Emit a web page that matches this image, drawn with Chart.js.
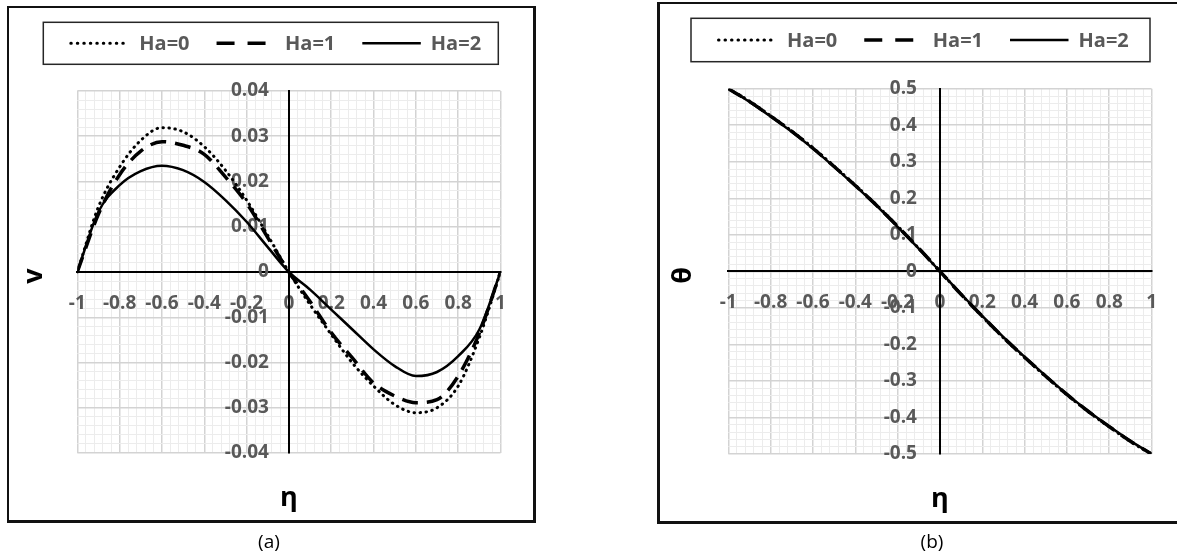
<!DOCTYPE html>
<html lang="es">
<head>
<meta charset="utf-8">
<title>v y θ frente a η</title>
<script src="https://cdn.jsdelivr.net/npm/chart.js@4.4.1/dist/chart.umd.min.js"></script>
<style>
    html, body { margin: 0; padding: 0; background: #fff; }
    body { width: 1177px; height: 557px; position: relative; overflow: hidden; font-family: 'Open Sans', sans-serif; }
    .marco { position: absolute; box-sizing: border-box; border: 2px solid #111; }
    #marcoA { left: 7px; top: 6px; width: 529px; height: 517px; border-right-width: 3px; border-bottom-width: 3px; }
    #marcoB { left: 657px; top: 2px; width: 540px; height: 522px; border-left-width: 3px; border-bottom-width: 3px; }
    canvas { position: absolute; top: 0; }
    #graficoV { left: 0; }
    #graficoTheta { left: 600px; }
    .pie { position: absolute; top: 529px; font-size: 19px; line-height: 24px; color: #000; transform: translateX(-50%); }
</style>
</head>
<body>
<div class="marco" id="marcoA"></div>
<div class="marco" id="marcoB"></div>
<canvas id="graficoV" width="600" height="557"></canvas>
<canvas id="graficoTheta" width="577" height="557"></canvas>
<div class="pie" style="left: 269px;">(a)</div>
<div class="pie" style="left: 932px;">(b)</div>

<script>
// Datos
const eta = [-1, -0.9, -0.8, -0.7, -0.6, -0.5, -0.4, -0.3, -0.2, -0.1, 0,
             0.1, 0.2, 0.3, 0.4, 0.5, 0.6, 0.7, 0.8, 0.9, 1];

const vHa0 = [0, 0.0144, 0.0232, 0.0291, 0.0319, 0.0310, 0.0277, 0.0225, 0.0159, 0.0081, 0,
              -0.0072, -0.0138, -0.0201, -0.0252, -0.0293, -0.0311, -0.0300, -0.0252, -0.0145, 0];
const vHa1 = [0, 0.0128, 0.0215, 0.0267, 0.0288, 0.0280, 0.0260, 0.0210, 0.0152, 0.0076, 0,
              -0.0065, -0.0134, -0.0190, -0.0245, -0.0274, -0.0289, -0.0282, -0.0230, -0.0135, 0];
const vHa2 = [0, 0.0133, 0.0192, 0.0223, 0.0235, 0.0225, 0.0199, 0.0159, 0.0111, 0.0055, 0,
              -0.0039, -0.0083, -0.0127, -0.0171, -0.0208, -0.0230, -0.0221, -0.0186, -0.0127, 0];

const thetaHa0 = [0.5, 0.466, 0.426, 0.384, 0.338, 0.288, 0.236, 0.182, 0.124, 0.063, 0,
                  -0.063, -0.124, -0.182, -0.236, -0.288, -0.338, -0.384, -0.426, -0.466, -0.5];
const thetaHa1 = [0.5, 0.465, 0.425, 0.383, 0.337, 0.287, 0.235, 0.181, 0.123, 0.063, 0,
                  -0.063, -0.123, -0.181, -0.235, -0.287, -0.337, -0.383, -0.425, -0.465, -0.5];
const thetaHa2 = [0.5, 0.464, 0.424, 0.382, 0.336, 0.286, 0.234, 0.180, 0.122, 0.062, 0,
                  -0.062, -0.122, -0.180, -0.234, -0.286, -0.336, -0.382, -0.424, -0.464, -0.5];

const series = ['Ha=0', 'Ha=1', 'Ha=2'];
const etaTicks = ['-1', '-0.8', '-0.6', '-0.4', '-0.2', '0', '0.2', '0.4', '0.6', '0.8', '1'];
const vTicks = ['-0.04', '-0.03', '-0.02', '-0.01', '0', '0.01', '0.02', '0.03', '0.04'];
const thetaTicks = ['-0.5', '-0.4', '-0.3', '-0.2', '-0.1', '0', '0.1', '0.2', '0.3', '0.4', '0.5'];

// Eje lineal centrado: separa las etiquetas verticales de la línea del eje
class EjeCentrado extends Chart.LinearScale {
    _computeLabelItems(area) {
        const items = super._computeLabelItems(area);
        if (!this.isHorizontal()) {
            items.forEach((item) => { item.options.translation[0] -= this.options.ticks.padding; });
        }
        return items;
    }
}
EjeCentrado.id = 'ejeCentrado';
EjeCentrado.defaults = Chart.LinearScale.defaults;
Chart.register(EjeCentrado);

document.addEventListener('DOMContentLoaded', () => {
    const fuenteTicks = { family: "'Open Sans', sans-serif", size: 19, weight: 'bold' };
    const estilos = [
        { borderWidth: 3, borderDash: [0.5, 5.5], borderCapStyle: 'round', leyenda: [0.5, 6] },
        { borderWidth: 3.5, borderDash: [16, 9], borderCapStyle: 'butt', leyenda: [18, 13] },
        { borderWidth: 2.5, borderDash: [], borderCapStyle: 'butt', leyenda: [] },
    ];

    // Indica si un valor cae sobre una división principal
    function esMayor(valor, paso) {
        const r = valor / paso;
        return Math.abs(r - Math.round(r)) < 1e-6;
    }

    // Etiqueta solo en las divisiones principales
    function etiquetas(lista, min, paso) {
        return (valor) => esMayor(valor, paso) ? lista[Math.round((valor - min) / paso)] : '';
    }

    // Configuración de un eje centrado con rejilla principal y secundaria
    function eje(min, max, paso, lista, posicion, relleno) {
        return {
            type: 'ejeCentrado',
            min: min,
            max: max,
            position: posicion,
            ticks: {
                stepSize: paso / 5,
                autoSkip: false,
                maxRotation: 0,
                minRotation: 0,
                padding: relleno,
                color: '#595959',
                font: fuenteTicks,
                callback: etiquetas(lista, min, paso),
            },
            grid: {
                drawTicks: false,
                color: (ctx) => esMayor(ctx.tick.value, paso) ? '#d3d3d3' : '#ececec',
                lineWidth: (ctx) => esMayor(ctx.tick.value, paso) ? 1.5 : 1,
            },
            border: { color: '#000', width: 2 },
        };
    }

    // Leyenda con recuadro, dibujada con los estilos de cada serie
    const leyendaRecuadro = {
        id: 'leyendaRecuadro',
        afterDraw(chart, args, opts) {
            const ctx = chart.ctx;
            const caja = opts.caja;
            ctx.save();
            ctx.strokeStyle = '#262626';
            ctx.lineWidth = 1.5;
            ctx.strokeRect(caja.x, caja.y, caja.w, caja.h);
            ctx.font = "bold 20px 'Open Sans', sans-serif";
            ctx.textBaseline = 'middle';
            const cy = caja.y + caja.h / 2;
            let cx = caja.x + 27.5;
            chart.data.datasets.forEach((ds, i) => {
                ctx.beginPath();
                ctx.setLineDash(estilos[i].leyenda);
                ctx.lineCap = ds.borderCapStyle;
                ctx.lineWidth = ds.borderWidth;
                ctx.strokeStyle = ds.borderColor;
                ctx.moveTo(cx, cy);
                ctx.lineTo(cx + 58.5, cy);
                ctx.stroke();
                ctx.setLineDash([]);
                cx += 58.5 + 10;
                ctx.fillStyle = '#595959';
                ctx.fillText(ds.label, cx, cy + 1);
                cx += ctx.measureText(ds.label).width + 27;
            });
            ctx.restore();
        },
    };

    // Títulos de los ejes fuera de la zona del gráfico
    const titulosEjes = {
        id: 'titulosEjes',
        afterDraw(chart, args, opts) {
            const ctx = chart.ctx;
            const area = chart.chartArea;
            ctx.save();
            ctx.fillStyle = '#000';
            ctx.font = "bold 27px 'Open Sans', sans-serif";
            ctx.textAlign = 'center';
            ctx.textBaseline = 'middle';
            ctx.fillText('η', (area.left + area.right) / 2, area.bottom + 45);
            ctx.translate(area.left + opts.dx, (area.top + area.bottom) / 2 + 4);
            ctx.rotate(-Math.PI / 2);
            ctx.fillText(opts.texto, 0, 0);
            ctx.restore();
        },
    };

    // Función para renderizar cada panel
    function renderizarGrafico(idCanvas, valores, ejeY, relleno, caja, titulo) {
        const ctx = document.getElementById(idCanvas).getContext('2d');
        new Chart(ctx, {
            type: 'line',
            data: {
                datasets: valores.map((serie, i) => ({
                    label: series[i],
                    data: eta.map((x, j) => ({ x: x, y: serie[j] })),
                    borderColor: '#000',
                    borderWidth: estilos[i].borderWidth,
                    borderDash: estilos[i].borderDash,
                    borderCapStyle: estilos[i].borderCapStyle,
                    pointRadius: 0,
                    fill: false,
                    cubicInterpolationMode: 'monotone',
                })),
            },
            options: {
                responsive: false,
                animation: false,
                devicePixelRatio: 1,
                layout: { padding: relleno },
                plugins: {
                    legend: { display: false },
                    tooltip: { enabled: false },
                    leyendaRecuadro: { caja: caja },
                    titulosEjes: titulo,
                },
                scales: {
                    x: eje(-1, 1, 0.2, etaTicks, { y: 0 }, 20),
                    y: ejeY,
                },
            },
            plugins: [leyendaRecuadro, titulosEjes],
        });
    }

    renderizarGrafico('graficoV', [vHa0, vHa1, vHa2],
        eje(-0.04, 0.04, 0.01, vTicks, { x: 0 }, 20),
        { left: 77.3, right: 99.5, top: 91, bottom: 104 },
        { x: 43.3, y: 22.3, w: 455, h: 42 },
        { texto: 'v', dx: -43 });

    renderizarGrafico('graficoTheta', [thetaHa0, thetaHa1, thetaHa2],
        eje(-0.5, 0.5, 0.1, thetaTicks, { x: 0 }, 23),
        { left: 128.3, right: 25, top: 88.7, bottom: 103 },
        { x: 91, y: 18.3, w: 459, h: 43.4 },
        { texto: 'θ', dx: -45 });
});
</script>
</body>
</html>
